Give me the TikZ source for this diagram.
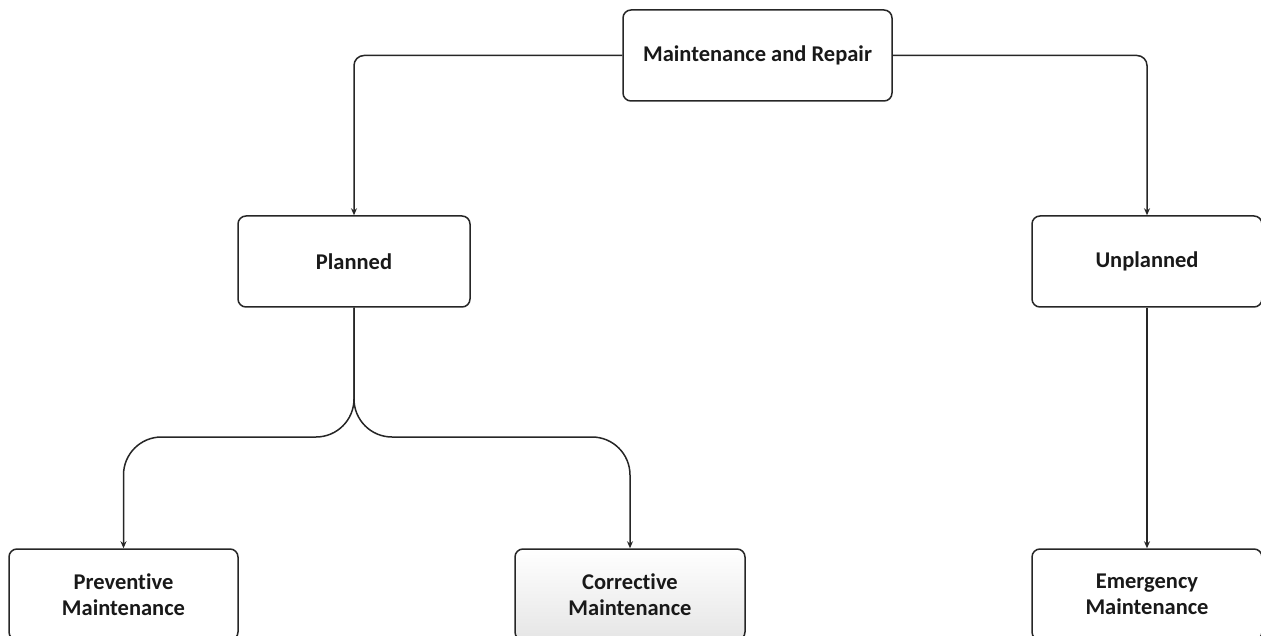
\documentclass[tikz,border=0pt]{standalone}
\usepackage{fontspec}
\setmainfont{Carlito}[Ligatures=NoCommon]
\usetikzlibrary{arrows.meta}
\begin{document}
\begin{tikzpicture}[x=1pt,y=-1pt,
  box/.style={draw=black!85,line width=1.5pt,rounded corners=8pt,fill=white,
    minimum width=230pt,minimum height=91pt,align=center,inner sep=0pt,
    font=\fontsize{22.5}{26}\selectfont\bfseries,text=black!90},
  conn/.style={draw=black!85,line width=1.5pt,-{Stealth[length=7pt,width=6pt]},rounded corners=10pt},
  split/.style={draw=black!85,line width=1.5pt,-{Stealth[length=7pt,width=6pt]},rounded corners=38pt}]
\useasboundingbox (0,0) rectangle (1261,636);
\clip (0,0) rectangle (1261,636);
\node[box,minimum width=269pt] (top) at (757.5,55.5) {Maintenance and Repair};
\node[box,minimum width=232pt] (plan) at (354,261.5) {Planned};
\node[box] (unplan) at (1147,261.5) {Unplanned};
\node[box,minimum width=229pt] (prev) at (123.5,594.5) {Preventive\\Maintenance};
\node[box,top color=white,bottom color=black!10,minimum width=230pt] (corr) at (630,594.5) {Corrective\\Maintenance};
\node[box] (emer) at (1147,594.5) {Emergency\\Maintenance};
\coordinate (sp) at (354,437);
\draw[conn] (top.west) -| (plan.north);
\draw[conn] (top.east) -| (unplan.north);
\draw[split] (plan.south) -- (sp) -| (prev.north);
\draw[split] (plan.south) -- (sp) -| (corr.north);
\draw[conn] (unplan.south) -- (emer.north);
\end{tikzpicture}
\end{document}
